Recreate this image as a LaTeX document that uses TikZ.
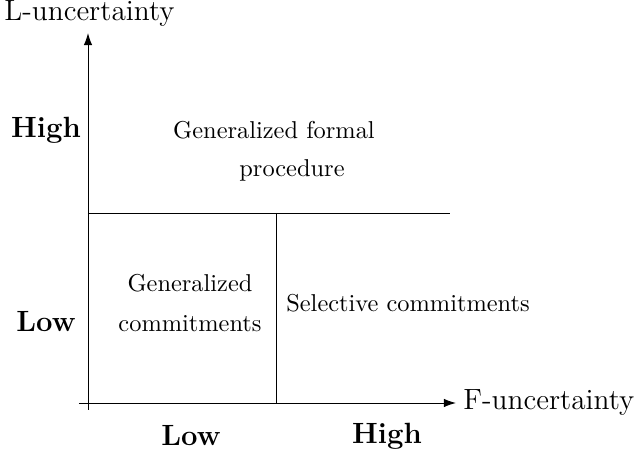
\documentclass[tikz,border=0pt]{standalone}
\usetikzlibrary{arrows.meta}
\begin{document}
\begin{tikzpicture}[x=0.41pt,y=-0.41pt,
  axis/.style={line width=0.4pt,-{Latex[length=5pt,width=3.5pt]}},
  grid/.style={line width=0.4pt},
  lbl/.style={inner sep=0pt,align=center},
  title/.style={inner sep=0pt,font=\large},
  tick/.style={inner sep=0pt,font=\large\bfseries}]
\useasboundingbox (0,0) rectangle (637,449);
% axes
\coordinate (o1) at (88,410);
\coordinate (ytip) at (88,33);
\coordinate (o2) at (79,403);
\coordinate (xtip) at (456,403);
\draw[axis] (o1) -- (ytip);
\draw[axis] (o2) -- (xtip);
% region borders
\coordinate (hl) at (88,213);
\coordinate (hr) at (450,213);
\coordinate (vt) at (276,213);
\coordinate (vb) at (276,403);
\draw[grid] (hl) -- (hr);
\draw[grid] (vt) -- (vb);
% axis titles
\node[title,anchor=west] (ylab) at (4,14) {L-uncertainty};
\node[title,anchor=west] (xlab) at (463,403) {F-uncertainty};
% level labels
\node[tick] (yhigh) at (46,130) {High};
\node[tick] (ylow) at (46,322) {Low};
\node[tick] (xlow) at (191,436) {Low};
\node[tick] (xhigh) at (387,436) {High};
% region texts
\node[lbl] (gfp1) at (274,130) {Generalized formal};
\node[lbl] (gfp2) at (292,170) {procedure};
\node[lbl] (gc) at (190,303) {Generalized\\[4.5pt]commitments};
\node[lbl] (sc) at (408,303) {Selective commitments};
\end{tikzpicture}
\end{document}
